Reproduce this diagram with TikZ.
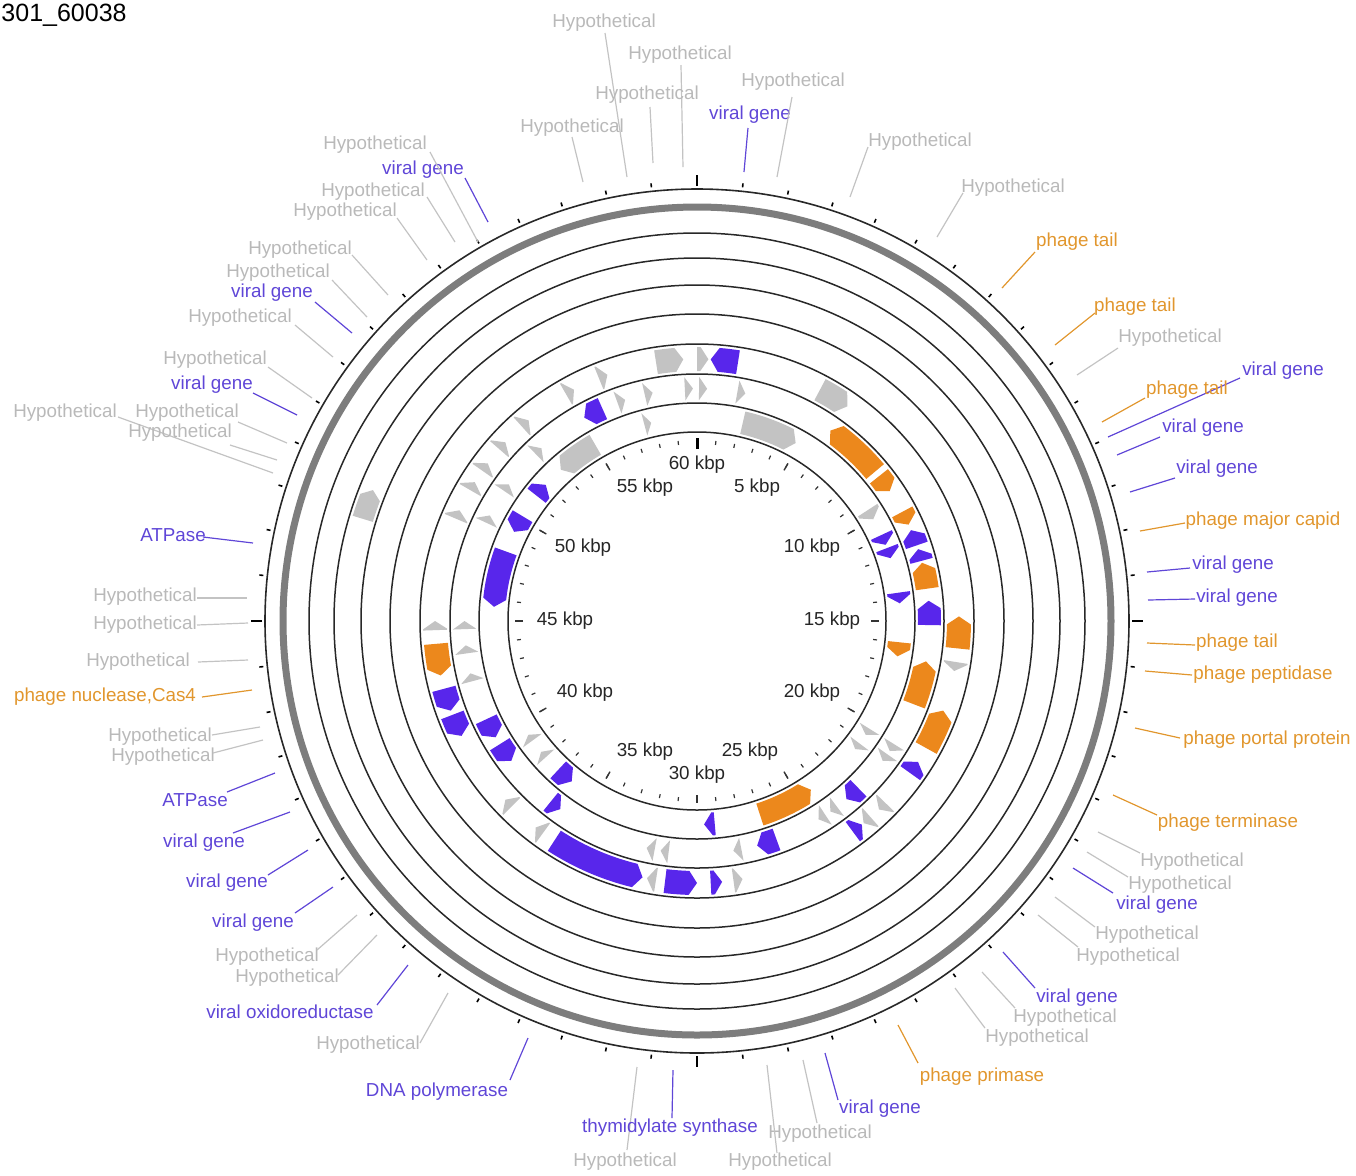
\documentclass[tikz,border=0pt]{standalone}
\usepackage{fontspec}
\setmainfont{Liberation Sans}
\definecolor{gfill}{RGB}{195,195,195}
\definecolor{bfill}{RGB}{88,38,235}
\definecolor{ofill}{RGB}{236,136,28}
\definecolor{htext}{RGB}{185,185,185}
\definecolor{vtext}{RGB}{95,70,215}
\definecolor{otext}{RGB}{225,150,45}
\definecolor{ringc}{RGB}{40,40,40}
\definecolor{ringgray}{RGB}{125,125,125}
% gene: start angle, end angle (head), inner r, outer r, colour
\newcommand{\gn}[5]{%
  \pgfmathsetmacro{\gnA}{#1-90}%
  \pgfmathsetmacro{\gnB}{#2-90}%
  \pgfmathsetmacro{\gnM}{(#3+#4)/2}%
  \pgfmathsetmacro{\gnH}{min(abs(#2-#1),458/\gnM)*sign(#2-#1)}%
  \pgfmathsetmacro{\gnS}{\gnB-\gnH}%
  \fill[#5] (\gnA:#3) arc[start angle=\gnA,end angle=\gnS,radius=#3] -- (\gnB:\gnM) -- (\gnS:#4) arc[start angle=\gnS,end angle=\gnA,radius=#4] -- cycle;}
\newcommand{\ga}[3]{\gn{#1}{#2}{192}{215}{#3}}
\newcommand{\gb}[3]{\gn{#1}{#2}{221}{244}{#3}}
\newcommand{\gc}[3]{\gn{#1}{#2}{250}{274}{#3}}
\newcommand{\gd}[3]{\gn{#1}{#2}{339}{360}{#3}}
% label: name, style, x, y, text, x1, y1, x2, y2
\newcommand{\lb}[9]{%
  \node[#2] (#1) at (#3,#4) {#5};
  \coordinate (#1a) at (#6,#7);
  \coordinate (#1b) at (#8,#9);
  \draw[#2line] (#1a) -- (#1b);}
\begin{document}
\begin{tikzpicture}[x=0.5pt,y=-0.5pt,font=\fontsize{9.4}{10}\selectfont,
  lh/.style={text=htext,inner sep=0},
  lv/.style={text=vtext,inner sep=0},
  lo/.style={text=otext,inner sep=0},
  lhline/.style={draw=htext!85,line width=0.6pt},
  lvline/.style={draw=vtext,line width=0.6pt},
  loline/.style={draw=otext,line width=0.6pt},
  kb/.style={text=black!85,inner sep=0}]
\useasboundingbox (0,0) rectangle (1356,1175);
\node[anchor=east,inner sep=0,font=\fontsize{12.5}{14}\selectfont] (title) at (127,15) {301\_60038};
\begin{scope}[shift={(697,621)}]
  \foreach \r in {189,218,247,277,307,336,363,388}
    \draw[draw=ringc,line width=0.75pt] (0,0) circle[radius=\r];
  \draw[draw=ringgray,line width=3.5pt] (0,0) circle[radius=414];
  \draw[draw=ringc,line width=0.8pt] (0,0) circle[radius=432];
  % outer ticks
  \foreach \k in {0,...,59}{
    \pgfmathsetmacro{\tA}{\k*6-90}
    \draw[line width=0.8pt] (\tA:436) -- (\tA:440);}
  \foreach \k in {0,15,30,45}{
    \pgfmathsetmacro{\tA}{\k*6-90}
    \draw[line width=1.4pt] (\tA:435) -- (\tA:446);}
  % inner ticks
  \foreach \k in {0,...,59}{
    \pgfmathsetmacro{\tA}{\k*6-90}
    \draw[line width=0.6pt,black!80] (\tA:177) -- (\tA:181);}
  \foreach \k in {5,10,...,55}{
    \pgfmathsetmacro{\tA}{\k*6-90}
    \draw[line width=0.7pt,black!80] (\tA:174) -- (\tA:182);}
  \draw[line width=1.5pt] (-90:172) -- (-90:183);
  % track C
  \gc{351}{357}{gfill} \gc{0}{2.5}{gfill} \gc{9}{3}{bfill} \gc{28}{35}{gfill}
  \gc{96}{89}{ofill} \gc{99}{101}{gfill} \gc{119}{110}{ofill} \gc{125.5}{122.5}{bfill}
  \gc{134}{136}{gfill} \gc{138.5}{140.5}{gfill} \gc{143.5}{141}{bfill}
  \gc{172}{170}{gfill} \gc{177}{174.5}{bfill} \gc{187}{180}{bfill} \gc{189}{191}{gfill}
  \gc{213}{192}{bfill} \gc{216}{218}{gfill} \gc{225}{227}{gfill}
  \gc{249}{244}{bfill} \gc{255}{250}{bfill} \gc{265}{258}{ofill} \gc{268}{270}{gfill}
  \gc{293}{295}{gfill} \gc{300}{302}{gfill} \gc{305}{307}{gfill} \gc{311}{313}{gfill}
  \gc{318}{320}{gfill} \gc{330}{332}{gfill} \gc{338}{340}{gfill}
  % track B
  \gb{336}{331}{bfill} \gb{340}{342}{gfill} \gb{347}{349}{gfill} \gb{357}{359}{gfill}
  \gb{0.5}{2.5}{gfill} \gb{10}{12}{gfill}
  \gb{50}{35}{ofill} \gb{51.5}{56}{ofill} \gb{62}{65.5}{ofill} \gb{71}{67}{bfill}
  \gb{75}{72}{bfill} \gb{82}{75.5}{ofill} \gb{91}{85}{bfill} \gb{111}{100}{ofill}
  \gb{122}{124}{gfill} \gb{125}{127}{gfill} \gb{136}{140}{bfill}
  \gb{143}{145}{gfill} \gb{146.5}{148.5}{gfill} \gb{160}{165}{bfill} \gb{169}{171}{gfill}
  \gb{187}{189}{gfill} \gb{190.5}{192.5}{gfill} \gb{219}{216}{bfill}
  \gb{238}{233}{bfill} \gb{245}{240}{bfill}
  \gb{255}{257}{gfill} \gb{262}{264}{gfill} \gb{268}{270}{gfill}
  \gb{295}{297}{gfill} \gb{304}{306}{gfill} \gb{316}{318}{gfill}
  % track A
  \ga{13}{29}{gfill} \ga{345}{347}{gfill} \ga{330}{318}{gfill} \ga{308}{312}{bfill}
  \ga{301}{296}{bfill} \ga{290}{274}{bfill} \ga{57}{60}{gfill} \ga{65}{68}{bfill}
  \ga{69}{72}{bfill} \ga{82}{85}{bfill} \ga{96}{100}{ofill} \ga{122}{124}{gfill}
  \ga{127}{129}{gfill} \ga{162}{146}{ofill} \ga{175}{178}{bfill} \ga{223}{218}{bfill}
  \ga{228}{230}{gfill} \ga{234}{236}{gfill}
  % track D
  \gd{287}{292}{gfill}
\end{scope}
% kbp labels
\node[kb] (k60) at (697,465) {60 kbp};
\node[kb] (k5) at (757,488) {5 kbp};
\node[kb] (k10) at (812,548) {10 kbp};
\node[kb] (k15) at (832,621) {15 kbp};
\node[kb] (k20) at (812,693) {20 kbp};
\node[kb] (k25) at (750,752) {25 kbp};
\node[kb] (k30) at (697,775) {30 kbp};
\node[kb] (k35) at (645,752) {35 kbp};
\node[kb] (k40) at (585,693) {40 kbp};
\node[kb] (k45) at (565,621) {45 kbp};
\node[kb] (k50) at (583,548) {50 kbp};
\node[kb] (k55) at (645,488) {55 kbp};
% gene labels
\lb{L1}{lh}{604}{23}{Hypothetical}{605}{33}{627}{177}
\lb{L2}{lh}{680}{55}{Hypothetical}{681}{65}{683}{167}
\lb{L3}{lh}{647}{95}{Hypothetical}{650}{107}{653}{163}
\lb{L4}{lh}{572}{128}{Hypothetical}{572}{137}{583}{182}
\lb{L5}{lv}{750}{115}{viral gene}{748}{128}{744}{172}
\lb{L6}{lh}{793}{82}{Hypothetical}{792}{97}{777}{177}
\lb{L7}{lh}{920}{142}{Hypothetical}{868}{147}{850}{197}
\lb{L8}{lh}{1013}{188}{Hypothetical}{963}{193}{937}{237}
\lb{L9}{lo}{1077}{242}{phage tail}{1035}{252}{1002}{288}
\lb{L10}{lo}{1135}{307}{phage tail}{1095}{313}{1055}{345}
\lb{L11}{lh}{1170}{338}{Hypothetical}{1118}{348}{1077}{375}
\lb{L12}{lv}{1283}{371}{viral gene}{1240}{378}{1108}{437}
\lb{L13}{lo}{1187}{390}{phage tail}{1145}{398}{1102}{422}
\lb{L14}{lv}{1203}{428}{viral gene}{1160}{437}{1117}{455}
\lb{L15}{lv}{1217}{469}{viral gene}{1175}{478}{1130}{492}
\lb{L16}{lo}{1263}{521}{phage major capid}{1185}{523}{1140}{531}
\lb{L17}{lv}{1233}{565}{viral gene}{1190}{568}{1147}{572}
\lb{L18}{lv}{1237}{598}{viral gene}{1195}{599}{1148}{600}
\lb{L19}{lo}{1237}{643}{phage tail}{1195}{645}{1147}{643}
\lb{L20}{lo}{1263}{675}{phage peptidase}{1192}{675}{1145}{671}
\lb{L21}{lo}{1267}{740}{phage portal protein}{1180}{738}{1135}{728}
\lb{L22}{lo}{1228}{823}{phage terminase}{1157}{815}{1113}{795}
\lb{L23}{lh}{1192}{862}{Hypothetical}{1140}{853}{1098}{832}
\lb{L24}{lh}{1180}{885}{Hypothetical}{1128}{877}{1087}{852}
\lb{L25}{lv}{1157}{905}{viral gene}{1113}{893}{1073}{868}
\lb{L26}{lh}{1147}{935}{Hypothetical}{1095}{927}{1055}{897}
\lb{L27}{lh}{1128}{957}{Hypothetical}{1078}{947}{1038}{915}
\lb{L28}{lv}{1077}{998}{viral gene}{1035}{988}{1003}{952}
\lb{L29}{lh}{1065}{1018}{Hypothetical}{1015}{1008}{982}{972}
\lb{L30}{lh}{1037}{1038}{Hypothetical}{985}{1028}{955}{988}
\lb{L31}{lo}{982}{1077}{phage primase}{918}{1063}{898}{1025}
\lb{L32}{lv}{880}{1109}{viral gene}{838}{1100}{825}{1053}
\lb{L33}{lh}{820}{1134}{Hypothetical}{817}{1123}{803}{1060}
\lb{L34}{lh}{780}{1162}{Hypothetical}{777}{1153}{767}{1065}
\lb{L36}{lh}{625}{1162}{Hypothetical}{627}{1150}{637}{1067}
\lb{L35}{lv}{670}{1128}{thymidylate synthase}{672}{1118}{673}{1070}
\lb{L37}{lv}{437}{1092}{DNA polymerase}{510}{1080}{528}{1038}
\lb{L38}{lh}{368}{1045}{Hypothetical}{420}{1043}{448}{993}
\lb{L39}{lv}{290}{1012}{viral oxidoreductase}{377}{1005}{408}{965}
\lb{L40}{lh}{287}{978}{Hypothetical}{338}{975}{377}{935}
\lb{L40b}{lh}{267}{957}{Hypothetical}{317}{950}{357}{915}
\lb{L41}{lv}{253}{923}{viral gene}{295}{913}{333}{887}
\lb{L42}{lv}{227}{883}{viral gene}{268}{875}{308}{850}
\lb{L43}{lv}{204}{843}{viral gene}{233}{833}{290}{812}
\lb{L44}{lv}{195}{800}{ATPase}{227}{792}{275}{773}
\lb{L45}{lh}{163}{757}{Hypothetical}{213}{753}{263}{740}
\lb{L46}{lh}{160}{737}{Hypothetical}{212}{735}{260}{727}
\lb{L47}{lo}{105}{697}{phage nuclease,Cas4}{202}{697}{252}{690}
\lb{L48}{lh}{138}{662}{Hypothetical}{198}{662}{248}{660}
\lb{L49}{lh}{145}{625}{Hypothetical}{197}{625}{248}{623}
\lb{L50}{lh}{145}{597}{Hypothetical}{197}{598}{247}{598}
\lb{L51}{lv}{173}{535}{ATPase}{203}{537}{253}{543}
\lb{L52}{lh}{65}{413}{Hypothetical}{118}{417}{273}{473}
\lb{L53}{lh}{187}{413}{Hypothetical}{238}{422}{287}{443}
\lb{L54}{lh}{180}{433}{Hypothetical}{230}{445}{277}{460}
\lb{L55}{lv}{212}{385}{viral gene}{253}{393}{297}{415}
\lb{L56}{lh}{215}{360}{Hypothetical}{268}{367}{312}{398}
\lb{L57}{lh}{240}{318}{Hypothetical}{295}{325}{333}{357}
\lb{L58}{lv}{272}{293}{viral gene}{315}{302}{352}{333}
\lb{L59}{lh}{278}{273}{Hypothetical}{332}{280}{367}{317}
\lb{L60}{lh}{300}{250}{Hypothetical}{352}{255}{388}{295}
\lb{L61}{lh}{345}{212}{Hypothetical}{397}{218}{427}{260}
\lb{L62}{lh}{373}{192}{Hypothetical}{427}{197}{455}{242}
\lb{L63}{lv}{423}{170}{viral gene}{465}{178}{488}{222}
\lb{L64}{lh}{375}{145}{Hypothetical}{430}{152}{478}{242}
\end{tikzpicture}
\end{document}
